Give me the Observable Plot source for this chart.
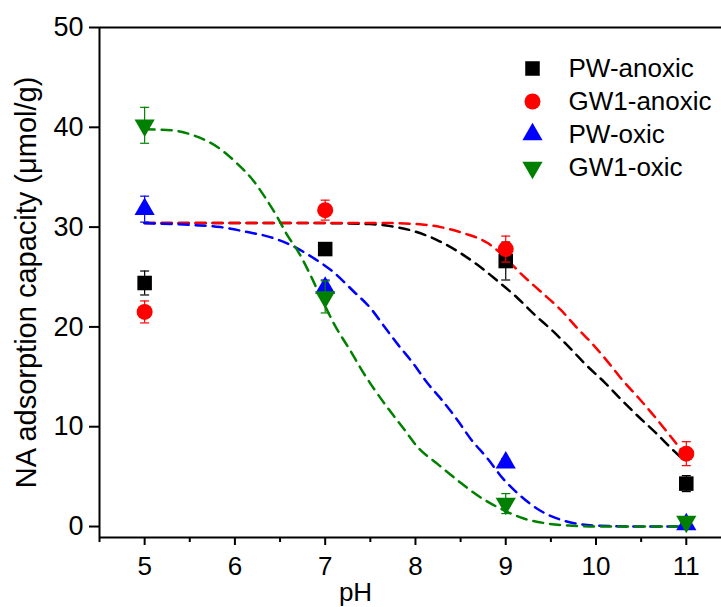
<!DOCTYPE html>
<html><head><meta charset="utf-8">
<script src="https://cdn.jsdelivr.net/npm/d3@7"></script>
<script src="https://cdn.jsdelivr.net/npm/@observablehq/plot@0.6"></script>
<style>body{margin:0;background:#fff}</style>
</head><body><div id="chart"></div>
<script>
// ---- data ----
const pH = [5, 7, 9, 11];
const seriesNames = ["PW-anoxic", "GW1-anoxic", "PW-oxic", "GW1-oxic"];
const seriesColors = ["#000000", "#ff0000", "#0000ff", "#008000"];

const pwAnoxic = [24.4, 27.8, 26.6, 4.3];
const pwAnoxicErr = [1.2, 0.6, 1.9, 0.8];
const gw1Anoxic = [21.5, 31.7, 27.8, 7.3];
const gw1AnoxicErr = [1.1, 1.0, 1.3, 1.2];
const pwOxic = [31.8, 23.9, 6.4, 0.2];
const pwOxicErr = [1.3, 0.8, 0.4, 0.3];
const gw1Oxic = [40.2, 23.0, 2.3, 0.5];
const gw1OxicErr = [1.8, 1.6, 1.0, 0.3];

// fitted curves [pH, capacity]
const fitPwAnoxic = [[5,30.4],[6,30.4],[7,30.4],[7.5,30.3],[7.72,30.1],[7.98,29.6],[8.24,28.7],[8.48,27.5],[8.69,26.2],[8.91,24.6],[9.13,22.9],[9.31,21.3],[9.52,19.6],[9.72,17.8],[9.9,16.1],[10.1,14.4],[10.27,12.8],[10.46,11.1],[10.66,9.4],[10.86,7.6],[10.93,7.0]];
const fitGw1Anoxic = [[5,30.4],[6,30.4],[7,30.4],[7.72,30.4],[8.02,30.3],[8.28,30.0],[8.53,29.4],[8.8,28.4],[9.0,26.9],[9.16,25.4],[9.38,23.6],[9.61,21.7],[9.79,19.9],[9.96,18.3],[10.14,16.4],[10.3,14.6],[10.47,12.9],[10.66,10.9],[10.82,9.1],[10.95,7.6]];
const fitPwOxic = [[5,30.4],[5.54,30.2],[5.84,30.0],[6.14,29.5],[6.39,29.0],[6.62,28.2],[6.87,26.9],[7.09,25.5],[7.31,23.6],[7.5,21.9],[7.65,20.1],[7.8,18.3],[7.97,16.4],[8.13,14.4],[8.3,12.6],[8.47,10.6],[8.61,8.8],[8.8,6.8],[8.97,4.8],[9.16,3.1],[9.38,1.6],[9.64,0.6],[9.97,0.1],[10.5,0],[11,0]];
const fitGw1Oxic = [[5,39.8],[5.3,39.7],[5.54,39.2],[5.81,38.0],[6.01,36.5],[6.2,34.7],[6.34,32.9],[6.47,31.0],[6.58,29.2],[6.71,27.4],[6.82,25.5],[6.92,23.6],[7.11,20.1],[7.28,17.6],[7.41,15.6],[7.54,13.8],[7.7,11.8],[7.87,9.8],[8.03,7.9],[8.24,6.3],[8.47,4.6],[8.69,3.1],[8.94,1.8],[9.2,0.8],[9.46,0.3],[9.7,0.1],[10,0],[11,0]];

const yTicks = [0, 10, 20, 30, 40, 50];
const xTicks = [5, 6, 7, 8, 9, 10, 11];
const xMinorTicks = [4.5, 5.5, 6.5, 7.5, 8.5, 9.5, 10.5];
const xLabel = "pH";
const yLabel = "NA adsorption capacity (\u03bcmol/g)";

// ---- build ----
const values = [pwAnoxic, gw1Anoxic, pwOxic, gw1Oxic];
const errs = [pwAnoxicErr, gw1AnoxicErr, pwOxicErr, gw1OxicErr];
const fits = [fitPwAnoxic, fitGw1Anoxic, fitPwOxic, fitGw1Oxic];
const symbols = ["square", "circle", "triangle", "triangle"];
const rotations = [0, 0, 0, 180];
const radii = [8.2, 8, 7.5, 7.5];

const capSymbol = {draw(ctx) { ctx.moveTo(-4.5, 0); ctx.lineTo(4.5, 0); }};

const points = values.map((vals, s) => pH.map((p, i) => ({pH: p, v: vals[i], e: errs[s][i]})));

const marks = [];
// frame lines
marks.push(Plot.ruleX([4.5], {strokeWidth: 2}));
marks.push(Plot.ruleY([50], {strokeWidth: 2}));
marks.push(Plot.ruleY([-1.1], {strokeWidth: 2}));
// axes
marks.push(Plot.axisY({ticks: yTicks, tickSize: 10, tickPadding: 6, fontSize: 27, strokeWidth: 2, label: null, tickFormat: d => String(d)}));
marks.push(Plot.axisX({ticks: xTicks, tickSize: 8, tickPadding: 11, fontSize: 26, strokeWidth: 2, label: null, tickFormat: d => String(d)}));
marks.push(Plot.axisX({ticks: xMinorTicks, tickSize: 5, strokeWidth: 2, label: null, tickFormat: () => ""}));
// fitted curves
fits.forEach((f, s) => {
  marks.push(Plot.line(f, {x: d => d[0], y: d => d[1], stroke: seriesColors[s], strokeWidth: 2.5, strokeDasharray: "10,7", curve: "monotone-x"}));
});
// points with error bars
points.forEach((pts, s) => {
  marks.push(Plot.ruleX(pts, {x: "pH", y1: d => d.v - d.e, y2: d => d.v + d.e, stroke: seriesColors[s], strokeWidth: 1.2}));
  marks.push(Plot.dot(pts, {x: "pH", y: d => d.v + d.e, symbol: capSymbol, stroke: seriesColors[s], fill: "none", strokeWidth: 1.2}));
  marks.push(Plot.dot(pts, {x: "pH", y: d => d.v - d.e, symbol: capSymbol, stroke: seriesColors[s], fill: "none", strokeWidth: 1.2}));
  marks.push(Plot.dot(pts, {x: "pH", y: "v", symbol: symbols[s], fill: seriesColors[s], r: radii[s], rotate: rotations[s]}));
});
// legend
seriesNames.forEach((name, s) => {
  marks.push(Plot.dot([name], {frameAnchor: "top-left", dx: 433, dy: 41 + s * 33, symbol: symbols[s], fill: seriesColors[s], r: radii[s], rotate: rotations[s]}));
  marks.push(Plot.text([name], {frameAnchor: "top-left", dx: 469, dy: 41 + s * 33, text: d => d, textAnchor: "start", lineAnchor: "middle", fontSize: 26, fill: "#000"}));
});
// axis titles
marks.push(Plot.text([xLabel], {frameAnchor: "bottom-left", dx: 256, dy: 63, text: d => d, textAnchor: "middle", lineAnchor: "bottom", fontSize: 26, fill: "#000"}));
marks.push(Plot.text([yLabel], {frameAnchor: "left", dx: -64, rotate: -90, text: d => d, textAnchor: "middle", lineAnchor: "bottom", fontSize: 29, fill: "#000"}));

const chart = Plot.plot({
  width: 721,
  height: 607,
  marginLeft: 99,
  marginRight: 0,
  marginTop: 27,
  marginBottom: 70,
  x: {domain: [4.5, 11.39]},
  y: {domain: [-1.1, 50]},
  style: {fontFamily: "'Liberation Sans', Arial, sans-serif", color: "#000", background: "#fff", overflow: "visible"},
  marks
});
document.getElementById("chart").appendChild(chart);
</script>
</body></html>
